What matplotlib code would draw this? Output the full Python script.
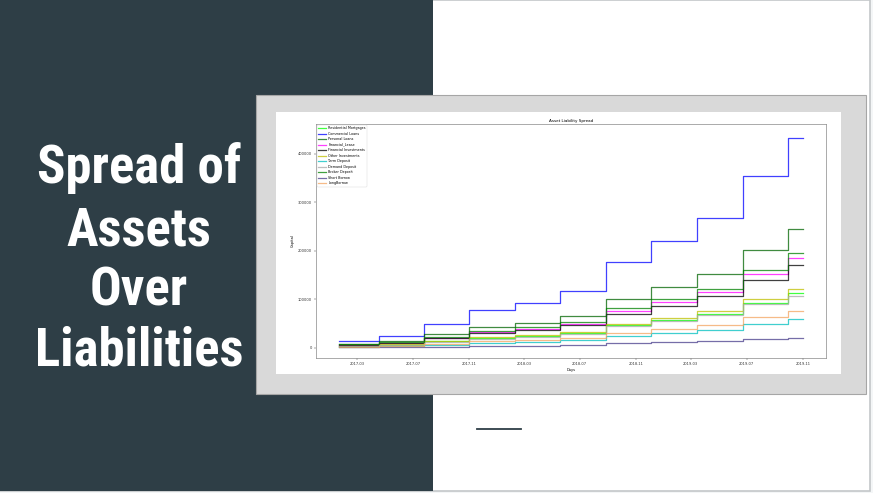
import numpy as np
import pandas as pd
import matplotlib
matplotlib.use('Agg')
import matplotlib.pyplot as plt
import matplotlib.dates as mdates
from matplotlib.patches import Rectangle

# period start dates (the levels step up roughly every 100 days), last entry = end of data
dates = ['2017-01-21', '2017-04-17', '2017-07-25', '2017-11-01', '2018-02-09', '2018-05-19',
         '2018-08-27', '2018-12-05', '2019-03-15', '2019-06-23', '2019-09-30', '2019-11-01']

res_mortgages = [3900, 6500, 13000, 20000, 24000, 30000, 46000, 57500, 70000, 93000, 112000]
comm_loans = [15000, 25000, 50000, 77000, 92000, 116000, 176000, 221000, 268000, 353000, 432000]
personal_loans = [8500, 14000, 28000, 43500, 52000, 65500, 100000, 125000, 152000, 202000, 244000]
fin_lease = [6500, 10500, 21000, 33000, 39000, 49000, 75000, 94000, 114000, 153000, 184000]
fin_invest = [6000, 10000, 20000, 30500, 36500, 46000, 70000, 87000, 106000, 140000, 170000]
other_invest = [4200, 7000, 14000, 21500, 26000, 32500, 49000, 62000, 75000, 101000, 121000]
term_deposit = [2000, 3400, 6800, 10500, 12600, 16000, 24000, 30000, 37000, 49000, 59000]
demand_deposit = [3700, 6200, 12500, 19000, 23000, 29000, 44000, 55000, 67000, 90000, 107000]
broker_deposit = [7000, 11500, 23000, 35000, 42000, 53000, 81000, 100500, 122000, 161000, 196000]
short_borrow = [700, 1200, 2500, 3800, 4600, 6500, 9000, 11000, 14000, 18000, 21000]
long_borrow = [2600, 4400, 8700, 13500, 16000, 20000, 31000, 38500, 47000, 63000, 76000]

series = [
    ('Residential Mortgages', res_mortgages, 'lime'),
    ('Commercial Loans', comm_loans, 'blue'),
    ('Personal Loans', personal_loans, 'darkgreen'),
    ('Financial_Lease', fin_lease, 'magenta'),
    ('Financial Investments', fin_invest, 'black'),
    ('Other Investments', other_invest, 'y'),
    ('Term Deposit', term_deposit, 'c'),
    ('Demand Deposit', demand_deposit, 'darkgrey'),
    ('Broker Deposit', broker_deposit, 'green'),
    ('Short Borrow', short_borrow, 'darkslateblue'),
    ('LongBorrow', long_borrow, 'sandybrown'),
]

W, H = 873, 493
fig = plt.figure(figsize=(W / 100, H / 100), dpi=100)
fig.patch.set_facecolor('#f4f6f7')


def rect(x0, y0, x1, y1, **kw):
    # pixel box, measured from the top left of the slide
    r = Rectangle((x0 / W, 1 - y1 / H), (x1 - x0) / W, (y1 - y0) / H,
                  transform=fig.transFigure, **kw)
    fig.patches.append(r)
    return r


# slide
rect(0, 0, 870, 491, facecolor='white', edgecolor='#c3c7c9', lw=1.2, zorder=0)
rect(0, 0, 433, 491, facecolor='#2e3e46', edgecolor='none', zorder=1)
rect(256, 95, 866, 394, facecolor='#d9d9d9', edgecolor='#a6a6a6', lw=0.8, zorder=2)
rect(276, 112, 841, 374, facecolor='white', edgecolor='none', zorder=3)
fig.add_artist(plt.Line2D([477 / W, 521 / W], [1 - 428.5 / H, 1 - 428.5 / H],
                          transform=fig.transFigure, color='#2e3e46', lw=1.3, zorder=3))

title_lines = ['Spread of', 'Assets', 'Over', 'Liabilities']
baselines = [183, 245, 306, 365]
for txt, yb in zip(title_lines, baselines):
    fig.text(139 / W, 1 - yb / H, txt, color='white', fontsize=38, ha='center', va='baseline',
             family=['Roboto Condensed', 'Liberation Sans Narrow', 'DejaVu Sans Condensed', 'Roboto'],
             weight='bold', zorder=5)

# chart
ax = fig.add_axes([316 / W, 1 - 358 / H, (826 - 316) / W, (358 - 124) / H], zorder=4)
x = pd.to_datetime(dates)
for name, vals, col in series:
    ax.plot(x, vals + [vals[-1]], drawstyle='steps-post', color=col, lw=0.9, alpha=0.75, label=name)

ax.set_ylim(-21000, 461000)
ax.set_yticks([0, 100000, 200000, 300000, 400000])
ax.xaxis.set_major_locator(mdates.MonthLocator(bymonth=[3, 7, 11]))
ax.xaxis.set_major_formatter(mdates.DateFormatter('%Y-%m'))
ax.tick_params(labelsize=2.6, length=1.5, width=0.3, pad=1.5, colors='#333333')
for s in ax.spines.values():
    s.set_linewidth(0.5)
    s.set_color('#888888')
ax.set_title('Asset Liability Spread', fontsize=3, pad=1.5)
ax.set_xlabel('Days', fontsize=2.6, labelpad=1)
ax.set_ylabel('Capital', fontsize=2.6, labelpad=2)
leg = ax.legend(loc='upper left', fontsize=2.4, labelspacing=0.45, handlelength=2.2,
                borderaxespad=0.3, borderpad=0.4, handletextpad=0.8)
leg.get_frame().set_linewidth(0.3)

fig.savefig('out.png', dpi=100, facecolor=fig.get_facecolor())
